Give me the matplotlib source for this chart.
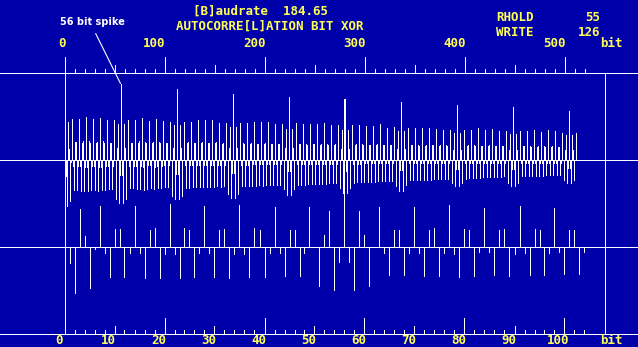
import matplotlib.pyplot as plt
import numpy as np

W, H = 638, 347
BLUE = '#0000aa'
YELLOW = '#ffff55'

# lower trace: lags 0..104 (5 px per bit), row = 7 bits
lower_vals = [87, -16, -46, 38, 11, -41, -2,
              41, -6, -30, 18, 18, -30, -6,
              41, -6, -31, 17, 19, -31, -7,
              43, -7, -31, 19, 17, -30, -6,
              41, -6, -30, 17, 18, -31, -7,
              42, -7, -30, 19, 17, -30, -6,
              40, -6, -29, 17, 17, -29, -6,
              40, 0, -39, 12, 36, -43, -15,
              148, -15, -43, 36, 12, -39, 0,
              40, -6, -28, 17, 17, -28, -6,
              40, -6, -29, 17, 19, -29, -6,
              42, -7, -30, 18, 17, -29, -5,
              39, -5, -28, 17, 18, -29, -7,
              41, -6, -28, 18, 17, -28, -6,
              39, -5, -27, 17, 17, -27, -5]

# upper trace: lags 0..511 (1 px per bit); first 105 lags same as lower except the 56 spike
upper_head = lower_vals[:56] + [76] + lower_vals[57:]
upper_tail = [38, 0, -36, 12, 35, -39, -14,
              71, -14, -39, 35, 12, -36, 0,
              38, -5, -28, 17, 18, -28, -5,
              38, -5, -27, 17, 17, -27, -5,
              40, -5, -27, 17, 18, -27, -5,
              40, -5, -27, 17, 17, -27, -5,
              40, -5, -27, 17, 18, -26, -5,
              37, -5, -27, 16, 17, -26, -5,
              37, 0, -34, 12, 33, -38, -13,
              66, -13, -38, 33, 12, -34, 0,
              37, -5, -26, 17, 16, -26, -5,
              37, -5, -26, 16, 17, -26, -4,
              38, -4, -26, 16, 16, -25, -4,
              38, -4, -26, 16, 17, -25, -4,
              38, -4, -25, 16, 16, -25, -4,
              36, -4, -25, 16, 16, -25, -4,
              36, 0, -29, 12, 31, -35, -11,
              63, -11, -35, 31, 12, -29, 0,
              37, -4, -25, 16, 16, -25, -4,
              36, -4, -25, 16, 15, -24, -4,
              36, -4, -24, 16, 16, -24, -4,
              36, -4, -24, 15, 16, -24, -4,
              37, -4, -24, 16, 15, -23, -4,
              35, -4, -23, 15, 16, -23, -4,
              35, 0, -28, 11, 30, -33, -11,
              61, -11, -33, 30, 11, -28, 0,
              35, -4, -23, 15, 16, -22, -4,
              35, -4, -22, 16, 15, -22, -3,
              34, -3, -22, 15, 15, -22, -3,
              34, -3, -22, 15, 16, -21, -3,
              36, -3, -21, 15, 15, -21, -3,
              32, -3, -21, 15, 15, -21, -3,
              33, 0, -26, 11, 29, -31, -10,
              58, -10, -31, 29, 11, -25, 0,
              32, -3, -20, 15, 15, -20, -3,
              32, -3, -20, 15, 14, -20, -3,
              32, -3, -20, 14, 15, -20, -3,
              32, -3, -20, 15, 15, -19, -3,
              31, -3, -19, 14, 15, -19, -3,
              30, -3, -19, 15, 14, -19, -3,
              30, 0, -23, 10, 27, -26, -9,
              55, -9, -26, 27, 10, -23, 0,
              30, -3, -19, 14, 15, -18, -3,
              30, -3, -18, 15, 14, -18, -3,
              32, -3, -18, 14, 14, -17, -3,
              30, -3, -17, 14, 15, -17, -3,
              31, -3, -17, 14, 14, -17, -3,
              29, -3, -17, 14, 14, -16, -3,
              29, 0, -23, 10, 26, -26, -9,
              53, -9, -26, 26, 10, -23, 0,
              29, -3, -16, 14, 14, -16, -3,
              29, -3, -16, 14, 13, -16, -3,
              30, -3, -16, 13, 14, -16, -3,
              28, -3, -16, 14, 13, -15, -3,
              30, -3, -15, 13, 14, -15, -3,
              29, -3, -15, 13, 13, -15, -3,
              27, 0, -20, 10, 25, -23, -8,
              49, -8, -23, 25, 10, -20, 0,
              27]
upper_vals = upper_head + upper_tail

top_labels = [0, 100, 200, 300, 400, 500]
bottom_labels = [0, 10, 20, 30, 40, 50, 60, 70, 80, 90, 100]

fig = plt.figure(figsize=(W / 100, H / 100), dpi=100, facecolor=BLUE)
ax_top = fig.add_axes([0, 0, 1, 1])
ax_bot = fig.add_axes([0, 0, 1, 1])
for ax in (ax_top, ax_bot):
    ax.set_facecolor('none')
    ax.set_axis_off()

# top scale: 1 px per bit, zero line on pixel row 159
ax_top.set_xlim(-64.5, W - 64.5)
ax_top.set_ylim(159.5 - H, 159.5)
# bottom scale: 5 px per bit, zero line on pixel row 246
ax_bot.set_xlim(-64.5 / 5, (W - 64.5) / 5)
ax_bot.set_ylim(246.5 - H, 246.5)

kw = dict(colors='white', linewidth=0.72, antialiased=False)

ax_top.vlines(np.arange(len(upper_vals)), 0, upper_vals, **kw)
ax_bot.vlines(np.arange(len(lower_vals)), 0, lower_vals, **kw)

# frame lines
for y in (87, 0, -87, -174):
    ax_top.axhline(y, color='white', linewidth=0.72, antialiased=False)
ax_top.vlines([0], -174, 103, **kw)
ax_top.vlines([540], -174, 87, **kw)

# tick marks
tb = np.arange(0, 521, 10)
tlen = np.where(tb % 100 == 0, 16, np.where(tb % 50 == 0, 8, 4))
ax_top.vlines(tb, 87, 87 + tlen, **kw)
bb = np.arange(0, 105, 2)
blen = np.where(bb % 20 == 0, 16, np.where(bb % 10 == 0, 8, 4))
ax_bot.vlines(bb, -87, -87 + blen, **kw)

font = dict(family='DejaVu Sans Mono', weight='bold', size=9, color=YELLOW)

for t in top_labels:
    ax_top.text(t + 1, 159.5 - 47, str(t), ha='right', va='baseline', **font)
ax_top.text(547, 159.5 - 47, 'bit', ha='center', va='baseline', **font)
for t in bottom_labels:
    ax_bot.text(t - 1.2, 246.5 - 344, str(t), ha='center', va='baseline', **font)
ax_bot.text(109.3, 246.5 - 344, 'bit', ha='center', va='baseline', **font)


def fpos(x, y):
    return x / W, 1 - y / H


fig.text(*fpos(193, 15), '[B]audrate  184.65', ha='left', va='baseline', **font)
fig.text(*fpos(176, 29.5), 'AUTOCORRE[L]ATION BIT XOR', ha='left', va='baseline', **font)
fig.text(*fpos(496, 21), 'RHOLD', ha='left', va='baseline', **font)
fig.text(*fpos(600, 21), '55', ha='right', va='baseline', **font)
fig.text(*fpos(496, 36), 'WRITE', ha='left', va='baseline', **font)
fig.text(*fpos(600, 36), '126', ha='right', va='baseline', **font)

ax_top.annotate('56 bit spike', xy=(56, upper_vals[56]), xytext=(60, H - 25),
                textcoords='figure pixels', ha='left', va='baseline',
                family='DejaVu Sans', weight='bold', size=7, color='white',
                arrowprops=dict(arrowstyle='-', color='white', lw=0.8,
                                relpos=(0.5, 0), shrinkA=3, shrinkB=0))

plt.savefig('out.png', dpi=100, facecolor=BLUE)
